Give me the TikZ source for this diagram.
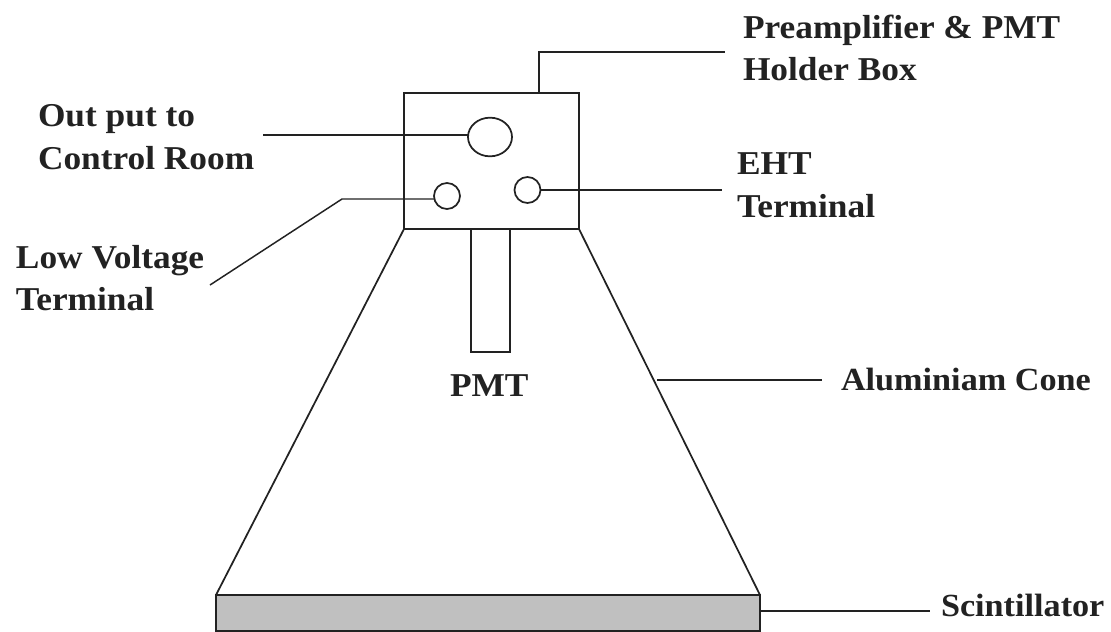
\documentclass[tikz,border=0pt]{standalone}
\usepackage{fontspec}
\setmainfont[FakeStretch=1.06]{Liberation Serif}
\usetikzlibrary{positioning,shapes.geometric}
\definecolor{conegray}{HTML}{C0C0C0}
\definecolor{inkgray}{HTML}{222222}
\begin{document}
\begin{tikzpicture}[
  x=0.75pt, y=-0.75pt,
  font=\fontsize{25}{32}\selectfont\bfseries,
  every node/.style={inner sep=0pt, outer sep=0pt},
  part/.style={draw=inkgray, line width=1.3pt, fill=white},
  holderbox/.style={part, minimum width=131.25pt, minimum height=102pt},
  port/.style={part, ellipse, minimum width=19.5pt, minimum height=19.5pt},
  label/.style={align=left, anchor=west, text=inkgray},
  smalllabel/.style={label, font=\fontsize{24.2}{32}\selectfont\bfseries},
  leader/.style={draw=inkgray, line width=1.1pt}
]
\useasboundingbox (0,0) rectangle (1111,632);
\fill[white] (0,0) rectangle (1111,632);

% cone and scintillator
\node[part, fill=conegray, minimum width=408pt, minimum height=27pt] (scint) at (488,613) {};
\node[holderbox] (holder) at (491.5,161) {};
\draw[part, fill=none] (holder.south west) -- (scint.north west);
\draw[part, fill=none] (holder.south east) -- (scint.north east);
\node[part, minimum width=29.25pt, minimum height=92.25pt, below=0pt of holder.south, xshift=-0.75pt] (pmt) {};

% terminals
\node[port, minimum width=33pt, minimum height=29pt] (output) at (490,137) {};
\node[port] (lowv) at (447,196) {};
\node[port] (eht) at (527.5,190) {};

% labels
\node[label] (holderlab) at (743,48) {Preamplifier \& PMT\\Holder Box};
\node[label] (outlab) at (38,137) {Out put to\\Control Room};
\node[label] (lowlab) at (16,278) {Low Voltage\\Terminal};
\node[label] (ehtlab) at (737,185) {EHT\\Terminal};
\node[label] (pmtlab) at (450,386) {PMT};
\node[smalllabel] (conelab) at (841,379) {Aluminiam Cone};
\node[smalllabel] (scintlab) at (941,605) {Scintillator};

% leader lines
\coordinate (holdertop) at (539,93);
\coordinate (holderend) at (725,52);
\coordinate (outend) at (263,135);
\coordinate (lowend) at (210,285);
\coordinate (lowbend) at (342,199);
\coordinate (ehtend) at (722,190);
\coordinate (coneedge) at (657,380);
\coordinate (coneend) at (822,380);
\coordinate (scintend) at (930,611);
\draw[leader] (holdertop) |- (holderend);
\draw[leader] (outend) -- (output.west |- outend);
\draw[leader] (lowend) -- (lowbend) -- (lowv.west |- lowbend);
\draw[leader] (eht.east) -- (ehtend);
\draw[leader] (coneedge) -- (coneend);
\draw[leader] (scint.east |- scintend) -- (scintend);
\end{tikzpicture}
\end{document}
